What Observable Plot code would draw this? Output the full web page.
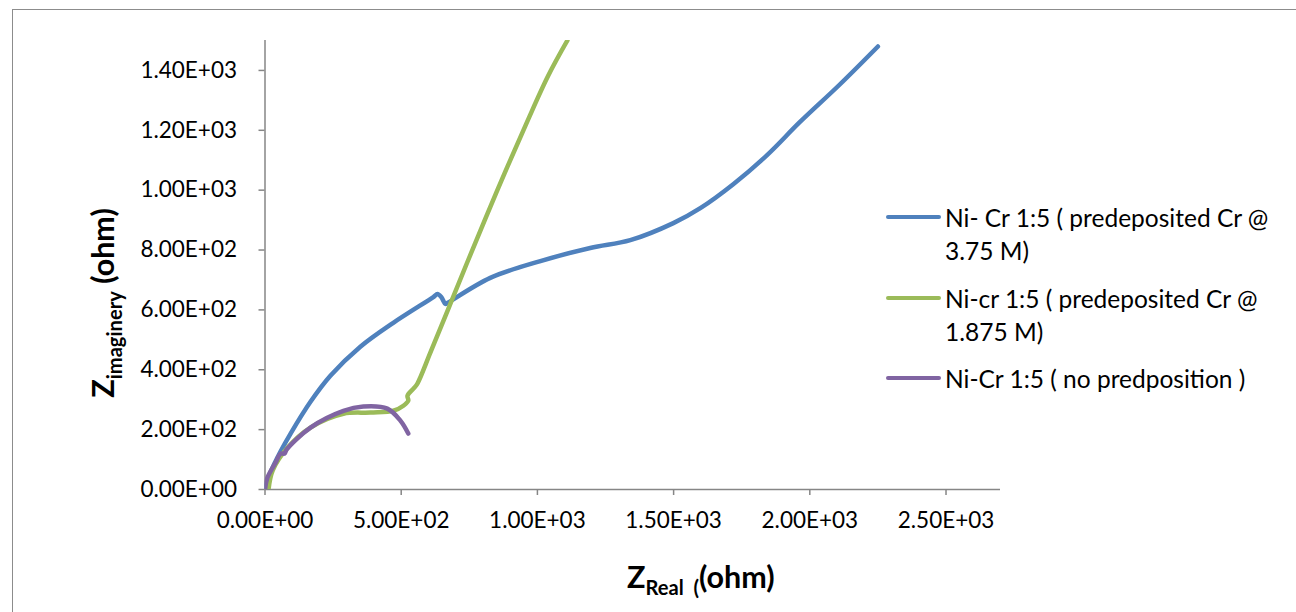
<!DOCTYPE html>
<html>
<head>
<meta charset="utf-8">
<script src="https://cdn.jsdelivr.net/npm/d3@7"></script>
<script src="https://cdn.jsdelivr.net/npm/@observablehq/plot@0.6"></script>
<style>
  html, body { margin: 0; padding: 0; background: #fff; }
  #wrap { position: relative; width: 1296px; height: 612px; overflow: hidden; font-family: Lato, "Open Sans", sans-serif; }
  #frame { position: absolute; left: 12px; top: 9px; width: 1320px; height: 640px; border: 1px solid #8c8c8c; box-sizing: border-box; }
  #chart { position: absolute; left: 0; top: 0; }
  .ttl { position: absolute; font-weight: bold; color: #000; white-space: nowrap; }
  .ttl sub { font-size: 0.66em; vertical-align: -0.35em; }
  #xttl { left: 627px; top: 558px; font-size: 30.5px; }
  #yttl { left: 105px; top: 303px; font-size: 30.5px; transform: translate(-50%, -50%) rotate(-90deg); }
  .leg { position: absolute; left: 886px; font-size: 24.5px; color: #000; }
  .leg .sw { position: absolute; left: 0; width: 55px; height: 4.5px; border-radius: 3px; }
  .leg .tx { position: absolute; left: 59px; top: 0; line-height: 33px; white-space: nowrap; }
</style>
</head>
<body>
<div id="wrap">
  <div id="frame"></div>
  <div id="chart"></div>
  <div class="ttl" id="yttl">Z<sub>imaginery</sub> (ohm)</div>
  <div class="ttl" id="xttl">Z<sub>Real&nbsp; (</sub>(ohm)</div>
  <div id="legend"></div>
</div>
<script>
// Impedance spectra (Nyquist plot), Z real vs Z imaginary in ohm
const seriesNames = [
  "Ni- Cr 1:5 ( predeposited Cr @|3.75 M)",
  "Ni-cr 1:5 ( predeposited Cr @|1.875 M)",
  "Ni-Cr 1:5 ( no predposition )"
];
const seriesColors = ["#4F81BD", "#9BBB59", "#8064A2"];

// Ni-Cr 1:5, predeposited Cr @ 3.75 M
const realA = [0, 20, 57, 94, 167, 240, 350, 471, 618, 633, 647, 662, 669, 827, 1011, 1194, 1341, 1499, 1598, 1719, 1843, 1963, 2110, 2250];
const imagA = [0, 57, 127, 187, 293, 380, 477, 557, 643, 653, 643, 620, 623, 707, 763, 807, 833, 890, 940, 1020, 1117, 1227, 1353, 1480];

// Ni-cr 1:5, predeposited Cr @ 1.875 M
const realB = [13, 28, 83, 167, 288, 387, 471, 508, 526, 523, 545, 559, 607, 670, 743, 853, 963, 1040, 1110];
const imagB = [0, 63, 140, 207, 253, 257, 263, 280, 297, 313, 337, 353, 457, 597, 760, 1000, 1230, 1383, 1500];

// Ni-Cr 1:5, no predeposition
const realC = [0, 9, 39, 57, 72, 79, 167, 288, 361, 449, 497, 526];
const imagC = [0, 40, 90, 120, 120, 133, 207, 263, 277, 270, 230, 187];

const xTicks = [0, 500, 1000, 1500, 2000, 2500];
const yTicks = [0, 200, 400, 600, 800, 1000, 1200, 1400];

const toRows = (re, im, s) => re.map((r, i) => ({re: r, im: im[i], s}));
const rows = [
  ...toRows(realA, imagA, 0),
  ...toRows(realB, imagB, 1),
  ...toRows(realC, imagC, 2)
];

// Excel-style scientific labels: 1.40E+03
function sci(v) {
  if (v === 0) return "0.00E+00";
  const e = Math.floor(Math.log10(Math.abs(v)));
  const m = v / Math.pow(10, e);
  return m.toFixed(2) + "E" + (e < 0 ? "-" : "+") + String(Math.abs(e)).padStart(2, "0");
}

const axisColor = "#868686";

const chart = Plot.plot({
  width: 1296,
  height: 612,
  marginLeft: 264.5,
  marginRight: 296,
  marginTop: 40,
  marginBottom: 123,
  style: {fontFamily: "Lato, 'Open Sans', sans-serif", fontSize: "22.5px", color: "#000", background: "transparent"},
  x: {domain: [0, 2700]},
  y: {domain: [0, 1500]},
  marks: [
    Plot.ruleY([0], {stroke: axisColor, strokeWidth: 1.5}),
    Plot.ruleX([0], {stroke: axisColor, strokeWidth: 1.5}),
    Plot.axisX({ticks: xTicks, tickFormat: sci, tickSize: 6, stroke: axisColor, strokeWidth: 1.5, tickPadding: 17, fill: "#000", label: null}),
    Plot.axisY({ticks: yTicks, tickFormat: sci, tickSize: 6, stroke: axisColor, strokeWidth: 1.5, tickPadding: 22, fill: "#000", label: null}),
    Plot.line(rows, {
      x: "re", y: "im", z: "s",
      stroke: d => seriesColors[d.s],
      strokeWidth: 4.5,
      strokeLinecap: "round",
      strokeLinejoin: "round",
      curve: "catmull-rom",
      clip: true
    })
  ]
});
document.getElementById("chart").appendChild(chart);

// Legend at the right of the plot
const legendTops = [217, 298, 378];
const legend = document.getElementById("legend");
seriesNames.forEach((name, i) => {
  const item = document.createElement("div");
  item.className = "leg";
  item.style.top = (legendTops[i] - 16.5) + "px";
  const sw = document.createElement("div");
  sw.className = "sw";
  sw.style.background = seriesColors[i];
  sw.style.top = (16.5 - 2.25) + "px";
  const tx = document.createElement("div");
  tx.className = "tx";
  name.split("|").forEach((part, k) => {
    if (k) tx.appendChild(document.createElement("br"));
    tx.appendChild(document.createTextNode(part));
  });
  item.appendChild(sw);
  item.appendChild(tx);
  legend.appendChild(item);
});
</script>
</body>
</html>
